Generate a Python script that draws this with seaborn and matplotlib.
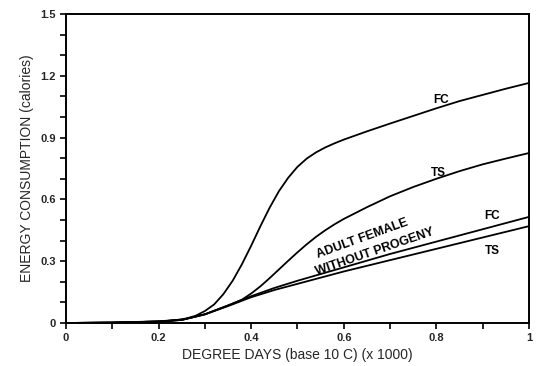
import matplotlib
matplotlib.use("Agg")
import matplotlib.pyplot as plt
from matplotlib.ticker import MultipleLocator, FuncFormatter
import seaborn as sns
import pandas as pd

# ---- data ----
fc_x = [0, 0.1, 0.2, 0.24, 0.26, 0.28, 0.30, 0.32, 0.34, 0.36, 0.38, 0.40, 0.42, 0.44, 0.46,
        0.48, 0.50, 0.52, 0.54, 0.56, 0.58, 0.60, 0.65, 0.70, 0.75, 0.80, 0.85, 0.90, 0.95, 1.0]
fc_y = [0, 0.002, 0.008, 0.015, 0.022, 0.035, 0.058, 0.09, 0.14, 0.205, 0.285, 0.375, 0.47, 0.56, 0.64,
        0.705, 0.758, 0.798, 0.828, 0.852, 0.872, 0.89, 0.93, 0.968, 1.005, 1.042, 1.077, 1.107, 1.137, 1.165]

ts_x = [0, 0.1, 0.2, 0.25, 0.3, 0.35, 0.38, 0.40, 0.42, 0.44, 0.46, 0.48, 0.50, 0.52, 0.54, 0.56,
        0.58, 0.60, 0.65, 0.70, 0.75, 0.80, 0.85, 0.90, 0.95, 1.0]
ts_y = [0, 0.002, 0.007, 0.015, 0.042, 0.085, 0.113, 0.143, 0.178, 0.218, 0.26, 0.302, 0.343, 0.382, 0.418, 0.45,
        0.479, 0.505, 0.562, 0.615, 0.66, 0.70, 0.737, 0.77, 0.798, 0.825]

adult_x = [0, 0.1, 0.2, 0.25, 0.3, 0.35, 0.4, 0.45, 0.5, 0.6, 0.7, 0.8, 0.9, 1.0]
adult_fc_y = [0, 0.002, 0.007, 0.015, 0.042, 0.085, 0.13, 0.17, 0.205, 0.27, 0.335, 0.395, 0.455, 0.515]
adult_ts_y = [0, 0.002, 0.007, 0.015, 0.042, 0.082, 0.125, 0.16, 0.19, 0.25, 0.305, 0.36, 0.415, 0.47]

x_ticks = [0, 0.2, 0.4, 0.6, 0.8, 1.0]
y_ticks = [0, 0.3, 0.6, 0.9, 1.2, 1.5]

series = [
    ("FC", fc_x, fc_y),
    ("TS", ts_x, ts_y),
    ("Adult FC", adult_x, adult_fc_y),
    ("Adult TS", adult_x, adult_ts_y),
]
rows = []
for name, xs, ys in series:
    for xv, yv in zip(xs, ys):
        rows.append({"series": name, "x": xv, "y": yv})
df = pd.DataFrame(rows)

sns.set_theme(style="ticks")
plt.rcParams["font.family"] = ["Liberation Sans", "DejaVu Sans"]

fig = plt.figure(figsize=(5.36, 3.66), dpi=100)
ax = fig.add_axes([0.123, 0.1175, 0.864, 0.8445])

sns.lineplot(data=df, x="x", y="y", units="series", estimator=None,
             color="black", linewidth=1.3, sort=False, ax=ax, legend=False)

ax.set_xlim(0, 1)
ax.set_ylim(0, 1.5)
ax.set_xticks(x_ticks)
ax.set_yticks(y_ticks)
ax.xaxis.set_minor_locator(MultipleLocator(0.1))
ax.yaxis.set_minor_locator(MultipleLocator(0.1))

def fmt(v, pos):
    if abs(v) < 1e-9:
        return "0"
    if abs(v - 1) < 1e-9:
        return "1"
    return f"{v:.1f}"

ax.xaxis.set_major_formatter(FuncFormatter(fmt))
ax.yaxis.set_major_formatter(FuncFormatter(fmt))
ax.tick_params(which="both", direction="out", length=4, width=1.2, color="black")
ax.tick_params(which="major", labelsize=8)
for lab in ax.get_xticklabels() + ax.get_yticklabels():
    lab.set_fontweight("bold")

for sp in ax.spines.values():
    sp.set_visible(True)
    sp.set_linewidth(1.4)
    sp.set_color("black")

ax.set_xlabel("DEGREE DAYS (base 10 C) (x 1000)", fontsize=10, labelpad=3)
ax.set_ylabel("ENERGY CONSUMPTION (calories)", fontsize=10, labelpad=4)

tkw = dict(fontsize=8.5, fontweight="bold", color="black", ha="center", va="center")
ax.text(0.81, 1.08, "FC", **tkw)
ax.text(0.805, 0.73, "TS", **tkw)
ax.text(0.92, 0.52, "FC", **tkw)
ax.text(0.92, 0.35, "TS", **tkw)
akw = dict(fontsize=9, fontweight="semibold", color="black", ha="center", va="center")
ax.text(0.64, 0.41, "ADULT FEMALE", rotation=20, **akw)
ax.text(0.668, 0.343, "WITHOUT PROGENY", rotation=19, **akw)

fig.savefig("out.png", dpi=100)
